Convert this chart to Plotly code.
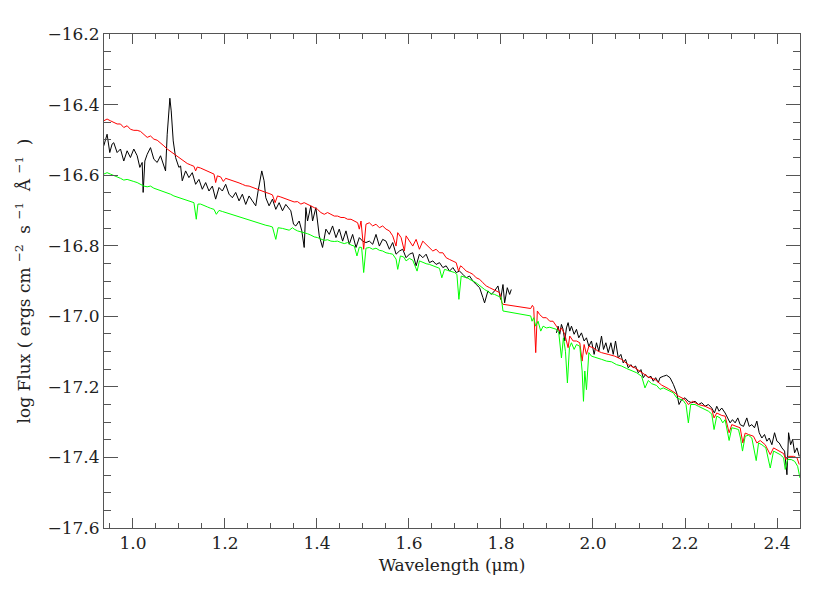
import plotly.graph_objects as go

# observed spectrum, blue part (J+H)
obs_wave_1 = [0.9365, 0.9437, 0.9495, 0.9546, 0.9582, 0.9655, 0.9728, 0.9800, 0.9873, 0.9945,
              1.0018, 1.0091, 1.0149, 1.0200, 1.0221, 1.0258, 1.0309, 1.0381, 1.0454, 1.0526,
              1.0599, 1.0672, 1.0708, 1.0744, 1.0780, 1.0802, 1.0831, 1.0875, 1.0926, 1.0998,
              1.1035, 1.1071, 1.1144, 1.1216, 1.1289, 1.1362, 1.1434, 1.1507, 1.1580, 1.1652,
              1.1725, 1.1797, 1.1870, 1.1943, 1.2015, 1.2088, 1.2161, 1.2233, 1.2306, 1.2378,
              1.2451, 1.2524, 1.2596, 1.2669, 1.2720, 1.2763, 1.2800, 1.2850, 1.2887, 1.2959,
              1.3032, 1.3105, 1.3177, 1.3250, 1.3322, 1.3431, 1.3490, 1.3540, 1.3613, 1.3670,
              1.3722, 1.3758, 1.3795, 1.3867, 1.3904, 1.3976, 1.4049, 1.4121, 1.4194, 1.4267,
              1.4339, 1.4412, 1.4484, 1.4557, 1.4630, 1.4702, 1.4775, 1.4848, 1.4920, 1.4993,
              1.5065, 1.5138, 1.5211, 1.5283, 1.5356, 1.5428, 1.5501, 1.5574, 1.5646, 1.5719,
              1.5792, 1.5864, 1.5937, 1.6009, 1.6082, 1.6155, 1.6227, 1.6300, 1.6373, 1.6445,
              1.6518, 1.6590, 1.6663, 1.6736, 1.6808, 1.6881, 1.6954, 1.7026, 1.7099, 1.7171,
              1.7244, 1.7317, 1.7389, 1.7462, 1.7535, 1.7607, 1.7643, 1.7716, 1.7789, 1.7861,
              1.7934, 1.7992, 1.8043, 1.8079, 1.8137, 1.8188, 1.8224]
obs_flux_1 = [-16.517, -16.484, -16.536, -16.512, -16.508, -16.536, -16.526, -16.560, -16.531, -16.550,
              -16.526, -16.545, -16.578, -16.564, -16.649, -16.560, -16.541, -16.522, -16.555, -16.564,
              -16.545, -16.574, -16.588, -16.484, -16.418, -16.382, -16.418, -16.503, -16.550, -16.578,
              -16.574, -16.616, -16.588, -16.607, -16.593, -16.626, -16.612, -16.640, -16.621, -16.645,
              -16.631, -16.668, -16.635, -16.645, -16.626, -16.654, -16.664, -16.649, -16.673, -16.654,
              -16.683, -16.659, -16.673, -16.687, -16.645, -16.612, -16.588, -16.616, -16.664, -16.687,
              -16.668, -16.697, -16.678, -16.701, -16.683, -16.701, -16.739, -16.744, -16.730, -16.758,
              -16.805, -16.692, -16.730, -16.687, -16.730, -16.692, -16.772, -16.805, -16.753, -16.768,
              -16.744, -16.777, -16.753, -16.787, -16.758, -16.796, -16.768, -16.805, -16.777, -16.787,
              -16.791, -16.787, -16.796, -16.768, -16.801, -16.782, -16.787, -16.810, -16.791, -16.824,
              -16.815, -16.810, -16.834, -16.824, -16.820, -16.857, -16.824, -16.834, -16.824, -16.848,
              -16.843, -16.853, -16.848, -16.862, -16.857, -16.872, -16.862, -16.876, -16.872, -16.881,
              -16.891, -16.886, -16.900, -16.910, -16.919, -16.947, -16.962, -16.928, -16.938, -16.928,
              -16.914, -16.952, -16.910, -16.962, -16.919, -16.938, -16.924]

# observed spectrum, K part
obs_wave_2 = [1.9205, 1.9241, 1.9277, 1.9314, 1.9350, 1.9386, 1.9423, 1.9459, 1.9495, 1.9532,
              1.9590, 1.9641, 1.9691, 1.9749, 1.9807, 1.9858, 1.9910, 1.9967, 2.0025, 2.0076,
              2.0127, 2.0185, 2.0229, 2.0280, 2.0331, 2.0389, 2.0440, 2.0490, 2.0549, 2.0606,
              2.0657, 2.0708, 2.0766, 2.0824, 2.0875, 2.0926, 2.0984, 2.1042, 2.1093, 2.1144,
              2.1202, 2.1260, 2.1311, 2.1362, 2.1420, 2.1456, 2.1529, 2.1601, 2.1674, 2.1747,
              2.1819, 2.1870, 2.1928, 2.2001, 2.2073, 2.2146, 2.2219, 2.2291, 2.2364, 2.2437,
              2.2509, 2.2582, 2.2640, 2.2690, 2.2741, 2.2799, 2.2872, 2.2930, 2.2981, 2.3032,
              2.3090, 2.3148, 2.3199, 2.3272, 2.3344, 2.3395, 2.3453, 2.3511, 2.3562, 2.3613,
              2.3671, 2.3729, 2.3780, 2.3831, 2.3889, 2.3947, 2.3998, 2.4049, 2.4107, 2.4165,
              2.4216, 2.4252, 2.4296, 2.4340, 2.4383, 2.4434, 2.4484]
obs_flux_2 = [-17.047, -17.028, -17.051, -17.023, -17.037, -17.070, -17.033, -17.018, -17.042, -17.028,
              -17.051, -17.037, -17.061, -17.047, -17.070, -17.061, -17.085, -17.070, -17.108, -17.075,
              -17.099, -17.056, -17.094, -17.075, -17.103, -17.075, -17.108, -17.070, -17.118, -17.108,
              -17.132, -17.122, -17.146, -17.137, -17.146, -17.141, -17.160, -17.151, -17.174, -17.165,
              -17.174, -17.170, -17.184, -17.174, -17.188, -17.174, -17.170, -17.167, -17.174, -17.193,
              -17.217, -17.250, -17.236, -17.231, -17.241, -17.245, -17.241, -17.250, -17.245, -17.255,
              -17.250, -17.260, -17.274, -17.255, -17.269, -17.260, -17.274, -17.288, -17.302, -17.293,
              -17.302, -17.288, -17.307, -17.312, -17.288, -17.312, -17.307, -17.316, -17.297, -17.330,
              -17.345, -17.335, -17.354, -17.345, -17.364, -17.330, -17.354, -17.359, -17.373, -17.382,
              -17.449, -17.330, -17.364, -17.349, -17.387, -17.373, -17.397]

# model 1 (red)
red_wave = [0.9365, 0.9437, 0.9510, 0.9582, 0.9655, 0.9728, 0.9800, 0.9873, 0.9945, 1.0018,
            1.0091, 1.0163, 1.0236, 1.0309, 1.0381, 1.0454, 1.0526, 1.0599, 1.0672, 1.0744,
            1.0817, 1.0890, 1.0962, 1.1035, 1.1107, 1.1180, 1.1253, 1.1325, 1.1362, 1.1398,
            1.1471, 1.1543, 1.1616, 1.1689, 1.1761, 1.1797, 1.1834, 1.1906, 1.1964, 1.2015,
            1.2088, 1.2161, 1.2233, 1.2306, 1.2378, 1.2451, 1.2524, 1.2596, 1.2669, 1.2741,
            1.2814, 1.2887, 1.2959, 1.3032, 1.3090, 1.3141, 1.3214, 1.3286, 1.3359, 1.3432,
            1.3504, 1.3577, 1.3650, 1.3722, 1.3795, 1.3867, 1.3940, 1.4012, 1.4085, 1.4158,
            1.4230, 1.4303, 1.4376, 1.4448, 1.4521, 1.4593, 1.4666, 1.4739, 1.4811, 1.4884,
            1.4920, 1.4957, 1.5015, 1.5065, 1.5138, 1.5211, 1.5283, 1.5356, 1.5428, 1.5501,
            1.5574, 1.5646, 1.5719, 1.5755, 1.5828, 1.5900, 1.5937, 1.6009, 1.6082, 1.6155,
            1.6227, 1.6300, 1.6373, 1.6445, 1.6518, 1.6590, 1.6663, 1.6736, 1.6808, 1.6881,
            1.6954, 1.7026, 1.7077, 1.7121, 1.7171, 1.7244, 1.7317, 1.7389, 1.7462, 1.7535,
            1.7607, 1.7680, 1.7753, 1.7825, 1.7898, 1.7970, 1.8021, 1.8043, 1.8646, 1.8682,
            1.8711, 1.8755, 1.8790, 1.8840, 1.8914, 1.8987, 1.9060, 1.9132, 1.9205, 1.9277,
            1.9314, 1.9386, 1.9459, 1.9495, 1.9568, 1.9641, 1.9713, 1.9764, 1.9807, 1.9858,
            1.9910, 2.0004, 2.0112, 2.0185, 2.0331, 2.0476, 2.0620, 2.0766, 2.0911, 2.1057,
            2.1202, 2.1347, 2.1492, 2.1638, 2.1783, 2.1855, 2.2000, 2.2073, 2.2166, 2.2291,
            2.2437, 2.2582, 2.2632, 2.2690, 2.2799, 2.2872, 2.2959, 2.3017, 2.3126, 2.3199,
            2.3257, 2.3308, 2.3380, 2.3489, 2.3562, 2.3635, 2.3744, 2.3853, 2.3925, 2.4034,
            2.4143, 2.4194, 2.4252, 2.4361, 2.4434, 2.4484]
red_flux = [-16.446, -16.441, -16.446, -16.451, -16.455, -16.455, -16.465, -16.460, -16.470, -16.473,
            -16.473, -16.476, -16.484, -16.493, -16.489, -16.498, -16.501, -16.508, -16.517, -16.526,
            -16.533, -16.541, -16.548, -16.555, -16.561, -16.567, -16.571, -16.575, -16.588, -16.577,
            -16.580, -16.584, -16.588, -16.592, -16.597, -16.621, -16.602, -16.605, -16.618, -16.609,
            -16.612, -16.614, -16.618, -16.622, -16.626, -16.630, -16.631, -16.635, -16.638, -16.641,
            -16.645, -16.649, -16.652, -16.656, -16.678, -16.659, -16.662, -16.665, -16.668, -16.673,
            -16.676, -16.675, -16.682, -16.678, -16.682, -16.687, -16.692, -16.697, -16.706, -16.711,
            -16.706, -16.711, -16.716, -16.716, -16.720, -16.720, -16.725, -16.725, -16.730, -16.735,
            -16.753, -16.730, -16.810, -16.739, -16.735, -16.744, -16.739, -16.749, -16.744, -16.753,
            -16.758, -16.772, -16.801, -16.763, -16.777, -16.815, -16.772, -16.787, -16.801, -16.782,
            -16.810, -16.787, -16.796, -16.805, -16.815, -16.810, -16.820, -16.820, -16.834, -16.839,
            -16.843, -16.848, -16.872, -16.857, -16.862, -16.872, -16.876, -16.881, -16.891, -16.895,
            -16.905, -16.914, -16.919, -16.924, -16.928, -16.933, -16.962, -16.966, -16.978, -16.969,
            -16.975, -17.103, -16.985, -16.995, -17.004, -17.004, -17.014, -17.014, -17.028, -17.042,
            -17.033, -17.051, -17.089, -17.056, -17.070, -17.070, -17.075, -17.127, -17.080, -17.108,
            -17.085, -17.089, -17.099, -17.103, -17.108, -17.113, -17.122, -17.137, -17.146, -17.160,
            -17.172, -17.179, -17.195, -17.205, -17.217, -17.226, -17.236, -17.250, -17.241, -17.250,
            -17.255, -17.264, -17.288, -17.274, -17.281, -17.283, -17.330, -17.307, -17.312, -17.316,
            -17.359, -17.331, -17.335, -17.340, -17.359, -17.352, -17.364, -17.392, -17.373, -17.382,
            -17.389, -17.406, -17.397, -17.397, -17.401, -17.420]

# model 2 (green)
green_wave = [0.9365, 0.9437, 0.9510, 0.9582, 0.9655, 0.9728, 0.9800, 0.9873, 0.9945, 1.0018,
              1.0091, 1.0163, 1.0236, 1.0309, 1.0381, 1.0454, 1.0526, 1.0599, 1.0672, 1.0744,
              1.0817, 1.0890, 1.0962, 1.1035, 1.1107, 1.1180, 1.1253, 1.1325, 1.1376, 1.1412,
              1.1471, 1.1543, 1.1616, 1.1689, 1.1761, 1.1812, 1.1870, 1.1943, 1.2015, 1.2088,
              1.2161, 1.2233, 1.2306, 1.2378, 1.2451, 1.2524, 1.2596, 1.2669, 1.2741, 1.2814,
              1.2887, 1.2959, 1.3032, 1.3105, 1.3155, 1.3250, 1.3322, 1.3395, 1.3468, 1.3504,
              1.3577, 1.3650, 1.3722, 1.3795, 1.3867, 1.3940, 1.4012, 1.4085, 1.4158, 1.4230,
              1.4303, 1.4376, 1.4448, 1.4521, 1.4593, 1.4666, 1.4739, 1.4811, 1.4869, 1.4920,
              1.4971, 1.5015, 1.5065, 1.5138, 1.5211, 1.5283, 1.5356, 1.5428, 1.5501, 1.5574,
              1.5646, 1.5719, 1.5755, 1.5813, 1.5886, 1.5937, 1.6009, 1.6082, 1.6176, 1.6227,
              1.6300, 1.6373, 1.6445, 1.6518, 1.6590, 1.6663, 1.6714, 1.6772, 1.6845, 1.6917,
              1.6990, 1.7041, 1.7085, 1.7135, 1.7208, 1.7280, 1.7353, 1.7426, 1.7498, 1.7571,
              1.7643, 1.7716, 1.7789, 1.7861, 1.7934, 1.8006, 1.8043, 1.8646, 1.8675, 1.8711,
              1.8755, 1.8806, 1.8864, 1.8915, 1.8987, 1.9060, 1.9132, 1.9205, 1.9256, 1.9314,
              1.9357, 1.9401, 1.9444, 1.9488, 1.9531, 1.9590, 1.9641, 1.9713, 1.9764, 1.9793,
              1.9822, 1.9858, 1.9910, 1.9967, 2.0040, 2.0112, 2.0185, 2.0294, 2.0403, 2.0512,
              2.0621, 2.0730, 2.0839, 2.0948, 2.1057, 2.1130, 2.1202, 2.1274, 2.1383, 2.1456,
              2.1529, 2.1638, 2.1747, 2.1819, 2.1892, 2.1964, 2.2022, 2.2073, 2.2124, 2.2219,
              2.2291, 2.2364, 2.2437, 2.2509, 2.2582, 2.2632, 2.2690, 2.2763, 2.2821, 2.2872,
              2.2959, 2.3017, 2.3090, 2.3163, 2.3206, 2.3250, 2.3308, 2.3380, 2.3453, 2.3548,
              2.3599, 2.3671, 2.3758, 2.3853, 2.3925, 2.3998, 2.4070, 2.4143, 2.4179, 2.4230,
              2.4310, 2.4383, 2.4448, 2.4499]
green_flux = [-16.597, -16.593, -16.597, -16.602, -16.605, -16.609, -16.614, -16.612, -16.616, -16.618,
              -16.621, -16.626, -16.631, -16.633, -16.631, -16.637, -16.640, -16.643, -16.647, -16.649,
              -16.654, -16.659, -16.662, -16.665, -16.668, -16.671, -16.673, -16.678, -16.725, -16.682,
              -16.682, -16.687, -16.690, -16.694, -16.697, -16.711, -16.700, -16.703, -16.706, -16.709,
              -16.713, -16.716, -16.718, -16.722, -16.725, -16.728, -16.730, -16.735, -16.737, -16.739,
              -16.742, -16.744, -16.747, -16.782, -16.749, -16.751, -16.753, -16.756, -16.749, -16.753,
              -16.758, -16.760, -16.763, -16.766, -16.770, -16.775, -16.777, -16.782, -16.785, -16.783,
              -16.787, -16.788, -16.787, -16.791, -16.794, -16.791, -16.798, -16.801, -16.829, -16.804,
              -16.805, -16.876, -16.807, -16.805, -16.810, -16.807, -16.813, -16.815, -16.820, -16.822,
              -16.824, -16.838, -16.867, -16.829, -16.832, -16.843, -16.836, -16.841, -16.872, -16.843,
              -16.848, -16.851, -16.853, -16.857, -16.860, -16.864, -16.891, -16.867, -16.870, -16.872,
              -16.876, -16.881, -16.952, -16.886, -16.889, -16.892, -16.898, -16.902, -16.909, -16.917,
              -16.924, -16.930, -16.936, -16.938, -16.943, -16.947, -16.985, -16.999, -17.014, -17.004,
              -17.028, -17.014, -17.042, -17.028, -17.033, -17.031, -17.034, -17.037, -17.047, -17.118,
              -17.061, -17.099, -17.189, -17.089, -17.075, -17.094, -17.080, -17.085, -17.155, -17.241,
              -17.155, -17.208, -17.103, -17.113, -17.116, -17.120, -17.122, -17.127, -17.129, -17.137,
              -17.141, -17.148, -17.155, -17.160, -17.170, -17.203, -17.182, -17.191, -17.196, -17.207,
              -17.203, -17.210, -17.217, -17.231, -17.236, -17.239, -17.250, -17.302, -17.250, -17.250,
              -17.255, -17.260, -17.264, -17.269, -17.277, -17.321, -17.283, -17.288, -17.302, -17.293,
              -17.352, -17.316, -17.318, -17.321, -17.345, -17.382, -17.340, -17.337, -17.345, -17.409,
              -17.359, -17.364, -17.373, -17.430, -17.382, -17.387, -17.392, -17.401, -17.434, -17.406,
              -17.406, -17.411, -17.425, -17.458]

x_ticks = [1.0, 1.2, 1.4, 1.6, 1.8, 2.0, 2.2, 2.4]
y_ticks = [-17.6, -17.4, -17.2, -17.0, -16.8, -16.6, -16.4, -16.2]

font = "DejaVu Serif"
axis_col = "#555555"
text_col = "#222222"

fig = go.Figure()
for w, f in [(obs_wave_1, obs_flux_1), (obs_wave_2, obs_flux_2)]:
    fig.add_trace(go.Scatter(x=w, y=f, mode="lines", line=dict(color="black", width=1)))
fig.add_trace(go.Scatter(x=red_wave, y=red_flux, mode="lines", line=dict(color="#ff0000", width=1)))
fig.add_trace(go.Scatter(x=green_wave, y=green_flux, mode="lines", line=dict(color="#00ff00", width=1)))

axis_common = dict(
    showgrid=False, zeroline=False, showline=True, linecolor=axis_col, linewidth=1,
    mirror="allticks", ticks="inside", tickcolor=axis_col, tickwidth=1,
    tickfont=dict(family=font, size=17, color=text_col),
)
fig.update_xaxes(
    range=[0.937, 2.45], tickvals=x_ticks, ticktext=[f"{v:.1f}" for v in x_ticks], ticklen=10,
    minor=dict(dtick=0.05, ticks="inside", ticklen=5, tickcolor=axis_col, tick0=0.95),
    title=dict(text="Wavelength (μm)", font=dict(family=font, size=17, color=text_col), standoff=6),
    **axis_common,
)
fig.update_yaxes(
    range=[-17.6, -16.2], tickvals=y_ticks, ticktext=[f"{v:.1f}".replace("-", "−") for v in y_ticks],
    ticklen=14,
    minor=dict(dtick=0.05, ticks="inside", ticklen=7, tickcolor=axis_col, tick0=-17.6),
    title=dict(text="log Flux ( ergs cm <sup>−2</sup>  s <sup>−1</sup>  Å <sup>−1</sup>  )",
               font=dict(family=font, size=17, color=text_col), standoff=12),
    **axis_common,
)
fig.update_layout(
    width=830, height=593, showlegend=False,
    margin=dict(l=96, r=38, t=26, b=73),
    paper_bgcolor="white", plot_bgcolor="white",
)

fig.write_html("out.html")
